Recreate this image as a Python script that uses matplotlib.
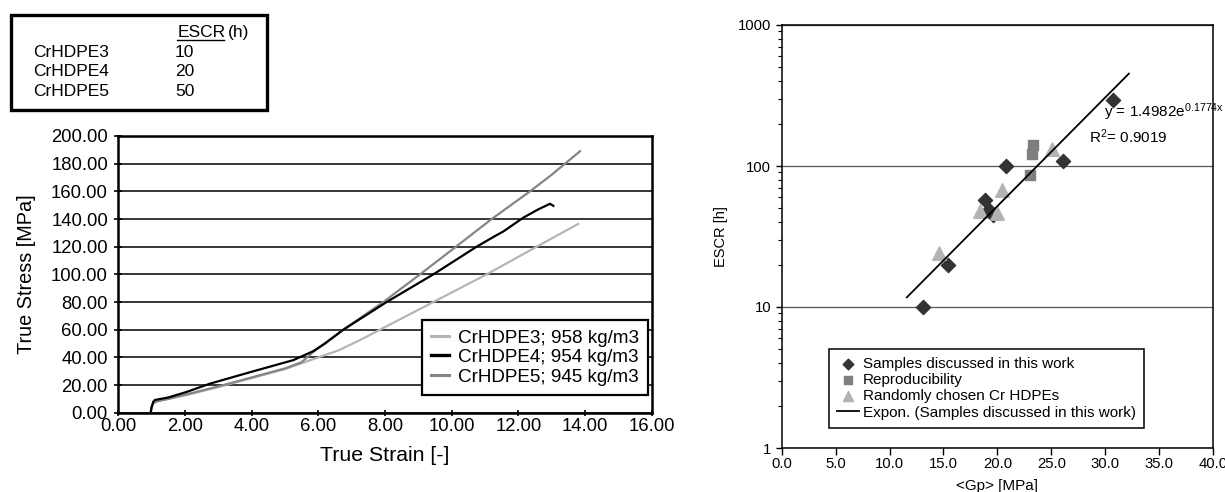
import matplotlib
matplotlib.use('Agg')
import matplotlib.pyplot as plt
from matplotlib.patches import Rectangle
from matplotlib.lines import Line2D
from matplotlib.ticker import FixedLocator, FuncFormatter, LogLocator, NullFormatter

plt.rcParams.update({
    'font.family': 'Liberation Sans',
    'mathtext.fontset': 'custom',
    'mathtext.rm': 'Liberation Sans',
    'mathtext.it': 'Liberation Sans:italic',
})

# ---- left panel: true stress vs true strain ----
table_names = ['CrHDPE3', 'CrHDPE4', 'CrHDPE5']
table_escr = ['10', '20', '50']

hdpe3_x = [0.97, 1.0, 1.05, 1.2, 1.5, 2.0, 3.0, 4.0, 5.0, 6.0, 6.6, 7.25, 7.85, 9.45, 11.05, 12.55, 13.8]
hdpe3_y = [0, 4, 7, 8.5, 10, 12.5, 18.5, 25, 31.5, 40, 45, 52.5, 60, 80, 100, 120, 136.5]

hdpe4_x = [0.97, 1.0, 1.05, 1.1, 1.5, 2.05, 2.75, 4.03, 5.25, 5.85, 6.2, 6.75, 8.05, 9.45,
           10.75, 11.25, 11.55, 12.15, 12.6, 12.95, 13.05]
hdpe4_y = [0, 4, 8, 9.2, 11, 15, 21, 29.8, 38, 44.5, 50, 60, 80, 100,
           120, 127, 131, 141, 147, 151, 149.5]

hdpe5_x = [0.97, 1.0, 1.05, 1.2, 1.5, 2.0, 3.0, 4.0, 5.0, 5.5, 5.85, 6.75, 7.95, 9.05,
           10.13, 11.2, 12.35, 13.0, 13.85]
hdpe5_y = [0, 4, 7, 8.5, 10, 13, 19, 25.5, 32, 36.5, 44, 60, 80, 100,
           120, 140, 160, 172, 189]

curve_labels = ['CrHDPE3; 958 kg/m3', 'CrHDPE4; 954 kg/m3', 'CrHDPE5; 945 kg/m3']

# ---- right panel: ESCR vs <Gp> ----
samples_x = [13.1, 15.4, 18.9, 19.2, 19.6, 20.8, 26.1, 30.7]
samples_y = [10, 20, 57, 49, 45, 100, 109, 295]

repro_x = [23.3, 23.2, 23.0]
repro_y = [141, 122, 86]

random_x = [14.6, 18.35, 20.0, 20.4, 25.1]
random_y = [24, 48, 46.5, 67.5, 133]

fit_x = [11.6, 32.2]
fit_y = [11.7, 452]

fig = plt.figure(figsize=(12.25, 4.92), dpi=100)
W, H = 1225.0, 492.0

# left axes
ax1 = fig.add_axes([118.3 / W, 1 - 412.7 / H, (651.7 - 118.3) / W, (412.7 - 136) / H])
ax1.plot(hdpe3_x, hdpe3_y, color='#b5b5b5', lw=1.6, zorder=3)
ax1.plot(hdpe5_x, hdpe5_y, color='#858585', lw=1.6, zorder=3)
ax1.plot(hdpe4_x, hdpe4_y, color='black', lw=1.6, zorder=4)
h3 = Line2D([], [], color='#b5b5b5', lw=2.2)
h4 = Line2D([], [], color='black', lw=2.4)
h5 = Line2D([], [], color='#858585', lw=2.2)
ax1.set_xlim(0, 16)
ax1.set_ylim(0, 200)
ax1.set_xticks(range(0, 17, 2))
ax1.set_yticks(range(0, 201, 20))
ax1.xaxis.set_major_formatter(FuncFormatter(lambda v, p: f'{v:.2f}'))
ax1.yaxis.set_major_formatter(FuncFormatter(lambda v, p: f'{v:.2f}'))
ax1.tick_params(axis='y', direction='inout', length=6, width=1.2, labelsize=13.3, pad=4.5)
ax1.tick_params(axis='x', direction='inout', length=5, width=1.2, labelsize=13.3, pad=1.5)
ax1.grid(axis='y', color='black', lw=1.1)
ax1.set_axisbelow(True)
for s in ax1.spines.values():
    s.set_linewidth(1.8)
ax1.set_xlabel('True Strain [-]', fontsize=15.3, labelpad=8)
ax1.set_ylabel('True Stress [MPa]', fontsize=14.3, labelpad=10.5)
leg1 = ax1.legend([h3, h4, h5], curve_labels, loc='lower right',
                  bbox_to_anchor=((648.3 - 118.3) / 533.4, (412.7 - 395) / 276.7),
                  borderaxespad=0, fontsize=13.6, handlelength=0.95, handletextpad=0.45,
                  labelspacing=0.12, fancybox=False, framealpha=1, borderpad=0.5)
leg1.get_frame().set_edgecolor('black')
leg1.get_frame().set_linewidth(1.6)

# ESCR table box (figure pixels)
fig.add_artist(Rectangle((10.5 / W, 1 - 110.2 / H), (266.8 - 10.5) / W, (110.2 - 14.8) / H,
                         transform=fig.transFigure, fill=False, lw=2.4, ec='black'))
fig.text(177.3 / W, 1 - 32.7 / H, 'ESCR', fontsize=12.5, ha='left', va='center')
fig.text(228.3 / W, 1 - 32.7 / H, '(h)', fontsize=12.5, ha='left', va='center')
fig.add_artist(Line2D([177.3 / W, 223.5 / W], [1 - 39.5 / H, 1 - 39.5 / H],
                      transform=fig.transFigure, color='black', lw=1))
row_y = [52.7, 71.7, 91.0]
for name, val, yy in zip(table_names, table_escr, row_y):
    fig.text(33.3 / W, 1 - yy / H, name, fontsize=12.5, ha='left', va='center')
    fig.text(175 / W, 1 - yy / H, val, fontsize=12.5, ha='left', va='center')

# right axes
ax2 = fig.add_axes([781.7 / W, 1 - 448 / H, (1213 - 781.7) / W, (448 - 25) / H])
ax2.set_yscale('log')
ax2.set_xlim(0, 40)
ax2.set_ylim(1, 1000)
ax2.plot(fit_x, fit_y, color='black', lw=1.3, zorder=4,
         label='Expon. (Samples discussed in this work)')
ax2.scatter(samples_x, samples_y, marker='D', s=52, color='#333333', zorder=3,
            label='Samples discussed in this work')
ax2.scatter(repro_x, repro_y, marker='s', s=60, color='#7f7f7f', zorder=3,
            label='Reproducibility')
ax2.scatter(random_x, random_y, marker='^', s=95, color='#b3b3b3', zorder=3,
            label='Randomly chosen Cr HDPEs')
ax2.set_xticks([0, 5, 10, 15, 20, 25, 30, 35, 40])
ax2.xaxis.set_major_formatter(FuncFormatter(lambda v, p: f'{v:.1f}'))
ax2.yaxis.set_major_locator(FixedLocator([1, 10, 100, 1000]))
ax2.yaxis.set_major_formatter(FuncFormatter(lambda v, p: f'{v:g}'))
ax2.yaxis.set_minor_locator(LogLocator(base=10, subs=range(2, 10)))
ax2.yaxis.set_minor_formatter(NullFormatter())
ax2.tick_params(axis='x', which='major', direction='out', length=5, width=1, labelsize=10.7, pad=1.8)
ax2.tick_params(axis='y', which='major', direction='out', length=4.5, width=1, labelsize=10.7, pad=3)
ax2.tick_params(axis='y', which='minor', direction='out', length=2.8, width=0.8)
ax2.grid(axis='y', which='major', color='#555555', lw=0.9)
ax2.set_axisbelow(True)
for s in ax2.spines.values():
    s.set_linewidth(1.1)
ax2.set_xlabel('<Gp> [MPa]', fontsize=11, labelpad=5.3)
ax2.set_ylabel('ESCR [h]', fontsize=10.5, labelpad=7.3)

ax2.text(29.9, 224, r'y = 1.4982e$^{\mathrm{0.1774x}}$', fontsize=11, ha='left',
         va='baseline', clip_on=False, zorder=5)
ax2.text(28.47, 145, r'R$^{\mathrm{2}}$= 0.9019', fontsize=11, ha='left', va='baseline', zorder=5)

handles, labels = ax2.get_legend_handles_labels()
order = [1, 2, 3, 0]
leg2 = ax2.legend([handles[i] for i in order], [labels[i] for i in order],
                  loc='lower left', bbox_to_anchor=((829 - 781.7) / 431.3, (448 - 428) / 423),
                  borderaxespad=0, fontsize=11, handlelength=1.4, handletextpad=0.25,
                  labelspacing=0.14, fancybox=False, framealpha=1, borderpad=0.55,
                  scatterpoints=1, markerscale=0.75)
leg2.get_frame().set_edgecolor('black')
leg2.get_frame().set_linewidth(1.1)

fig.savefig('out.png', dpi=100)
